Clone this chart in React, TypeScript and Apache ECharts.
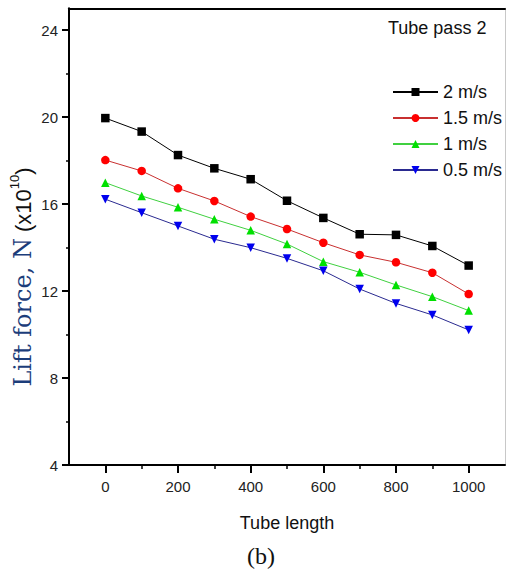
import React, { useEffect, useRef } from "react";
import * as echarts from "echarts";

const tubeLength = [0, 100, 200, 300, 400, 500, 600, 700, 800, 900, 1000];
const seriesNames = ["2 m/s", "1.5 m/s", "1 m/s", "0.5 m/s"];
const v2 = [19.95, 19.33, 18.25, 17.64, 17.14, 16.15, 15.36, 14.61, 14.58, 14.07, 13.17];
const v15 = [18.02, 17.52, 16.72, 16.14, 15.42, 14.85, 14.22, 13.66, 13.32, 12.84, 11.86];
const v1 = [16.98, 16.37, 15.85, 15.3, 14.79, 14.16, 13.35, 12.86, 12.28, 11.74, 11.1];
const v05 = [16.22, 15.6, 14.99, 14.38, 13.99, 13.5, 12.93, 12.09, 11.43, 10.9, 10.21];
const xTicks = [0, 200, 400, 600, 800, 1000];
const yTicks = [4, 8, 12, 16, 20, 24];

const SANS = "'Liberation Sans', Arial, sans-serif";

export default function App() {
  const ref = useRef<HTMLDivElement>(null);
  useEffect(() => {
    if (!ref.current) return;
    const chart = echarts.init(ref.current, undefined, { renderer: "svg" });
    const mk = (name: string, vals: number[], symbol: string, color: string, lineColor: string, rot = 0) => ({
      name,
      type: "line",
      xAxisIndex: 0,
      yAxisIndex: 0,
      data: tubeLength.map((x, i) => [x, vals[i]]),
      symbol,
      symbolSize: 8.5,
      symbolRotate: rot,
      showAllSymbol: true,
      itemStyle: { color },
      lineStyle: { color: lineColor, width: 1 },
      emphasis: { disabled: true },
    });
    const tickLine = { color: "#000", width: 2 };
    const hiddenLine = { show: false, onZero: false };
    chart.setOption({
      animation: false,
      backgroundColor: "#fff",
      grid: [
        { left: 69, top: 8.25, width: 436, height: 456.75 },
        { left: 105.333, top: 8.25, width: 363.333, height: 456.75 },
        { left: 69, top: 30, width: 436, height: 435 },
      ],
      xAxis: [
        {
          gridIndex: 0, type: "value", min: -100, max: 1100, position: "bottom",
          axisLine: { show: true, onZero: false, lineStyle: { color: "#000", width: 2 } },
          axisTick: { show: false }, axisLabel: { show: false }, splitLine: { show: false },
          name: "Tube length", nameLocation: "middle", nameGap: 58,
          nameTextStyle: { fontSize: 18, fontFamily: SANS, color: "#111", verticalAlign: "middle" },
        },
        {
          gridIndex: 0, type: "value", position: "top", min: -100, max: 1100,
          axisLine: { show: true, onZero: false, lineStyle: { color: "#000", width: 2 } },
          axisTick: { show: false }, axisLabel: { show: false }, splitLine: { show: false },
        },
        {
          gridIndex: 1, type: "value", position: "bottom",
          min: xTicks[0], max: xTicks[xTicks.length - 1], interval: 200,
          axisLine: hiddenLine,
          axisTick: { show: true, length: 8, lineStyle: tickLine },
          minorTick: { show: true, splitNumber: 2, length: 4, lineStyle: { color: "#000", width: 1.5 } },
          axisLabel: { margin: 14, fontSize: 15, fontFamily: SANS, color: "#222", formatter: (v: number) => String(v) },
          splitLine: { show: false },
        },
        { gridIndex: 2, type: "value", show: false, min: 0, max: 1, axisLine: hiddenLine },
      ],
      yAxis: [
        {
          gridIndex: 0, type: "value", min: 4, max: 25, position: "left",
          axisLine: { show: true, onZero: false, lineStyle: { color: "#000", width: 2 } },
          axisTick: { show: false }, axisLabel: { show: false }, splitLine: { show: false },
        },
        {
          gridIndex: 0, type: "value", position: "right", min: 4, max: 25,
          axisLine: { show: true, onZero: false, lineStyle: { color: "#c8c8c8", width: 1 } },
          axisTick: { show: false }, axisLabel: { show: false }, splitLine: { show: false },
        },
        { gridIndex: 1, type: "value", show: false, min: 0, max: 1, axisLine: hiddenLine },
        {
          gridIndex: 2, type: "value", position: "left",
          min: yTicks[0], max: yTicks[yTicks.length - 1], interval: 4,
          axisLine: hiddenLine,
          axisTick: { show: true, length: 7, lineStyle: tickLine },
          minorTick: { show: true, splitNumber: 2, length: 3, lineStyle: { color: "#000", width: 1.5 } },
          axisLabel: { margin: 11, fontSize: 15, fontFamily: SANS, color: "#222" },
          splitLine: { show: false },
        },
      ],
      legend: {
        data: seriesNames,
        orient: "vertical",
        left: 387,
        top: 76,
        itemWidth: 45,
        itemHeight: 10,
        itemGap: 4,
        textStyle: { fontSize: 18, lineHeight: 22, fontFamily: SANS, color: "#111" },
        selectedMode: false,
      },
      graphic: [
        {
          type: "text", left: 388, top: 19,
          style: { text: "Tube pass 2", fontSize: 18, fontFamily: SANS, fill: "#111" },
        },
        {
          type: "text", x: 23, y: 277, rotation: Math.PI / 2,
          style: {
            text: "{a|Lift force, N}{b| (x10}{c|10}{b|)}",
            align: "center", verticalAlign: "middle",
            rich: {
              a: { fontSize: 24, fontFamily: "'DejaVu Serif', serif", fill: "#1c3d7a", lineHeight: 30 },
              b: { fontSize: 22, fontFamily: SANS, fill: "#111", lineHeight: 30 },
              c: { fontSize: 13, fontFamily: SANS, fill: "#111", lineHeight: 30, verticalAlign: "top" },
            },
          },
        },
        {
          type: "text", x: 261, y: 556,
          style: { text: "(b)", fontSize: 24, fontFamily: "'Liberation Serif', 'Times New Roman', serif", fill: "#111", align: "center", verticalAlign: "middle" },
        },
      ],
      series: [
        mk(seriesNames[0], v2, "rect", "#000", "#000"),
        mk(seriesNames[1], v15, "circle", "#ff0000", "#c83030"),
        mk(seriesNames[2], v1, "triangle", "#00e000", "#40d040"),
        mk(seriesNames[3], v05, "triangle", "#0000ee", "#2a2a90", 180),
      ],
    });
    return () => chart.dispose();
  }, []);
  return <div ref={ref} style={{ position: "fixed", left: 0, top: 0, width: 506, height: 573 }} />;
}
